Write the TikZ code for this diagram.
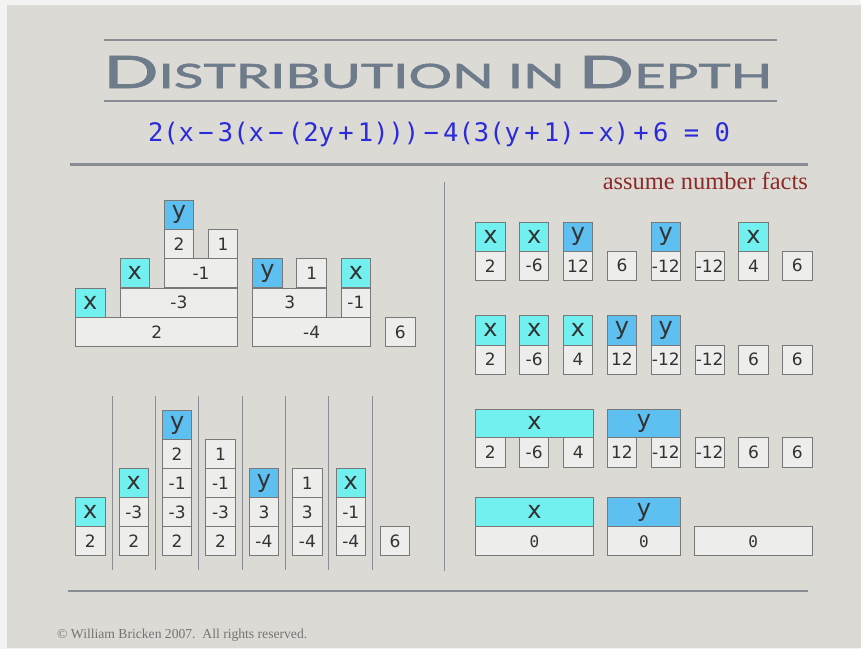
\documentclass[tikz,border=0pt]{standalone}
\usepackage{fontspec}
\usepackage{graphicx}
\setmainfont{Liberation Serif}
\newfontfamily\boxfont{DejaVu Sans}
\newfontfamily\eqfont{DejaVu Sans Mono}
\newfontfamily\titlefont[FakeBold=1.6]{Lato}
\definecolor{bg}{HTML}{DCDAD5}
\definecolor{rim}{HTML}{F3F3F2}
\definecolor{rule}{HTML}{8A8D93}
\definecolor{titlec}{HTML}{6E7B8B}
\definecolor{eqc}{HTML}{2B2BDB}
\definecolor{factc}{HTML}{8C2A2A}
\definecolor{boxline}{HTML}{787878}
\definecolor{numfill}{HTML}{EDEDEC}
\definecolor{xfill}{HTML}{72F0F0}
\definecolor{yfill}{HTML}{5EC0F0}
\definecolor{txt}{HTML}{333333}
\newcommand\bx[6]{\node[#1,anchor=north west,minimum width=#4pt,minimum height=#5pt] (#2) at (#3) {#6};}
\begin{document}
\begin{tikzpicture}[x=1pt,y=-1pt,
  cellbase/.style={draw=boxline,line width=1pt,inner sep=0pt,outer sep=0pt,text=txt},
  num/.style={cellbase,fill=numfill,font=\boxfont\fontsize{17}{17}\selectfont},
  zero/.style={cellbase,fill=numfill,font=\eqfont\fontsize{16}{16}\selectfont},
  cx/.style={cellbase,fill=xfill,font=\boxfont\fontsize{24}{24}\selectfont},
  cy/.style={cellbase,fill=yfill,font=\boxfont\fontsize{24}{24}\selectfont},
  rulel/.style={draw=rule,line width=1.5pt},
  sepl/.style={draw=rule,line width=1pt}]
% background
\fill[rim] (0,0) rectangle (861,649);
\fill[bg] (7,5) rectangle (861,648);
\useasboundingbox (0,0) rectangle (861,649);
% title
\draw[rulel] (104,40) -- (777,40);
\draw[rulel] (104,101) -- (777,101);
\node[anchor=base west,inner sep=0pt,text=titlec] (title) at (103,88)
  {\resizebox{669pt}{32pt}{\titlefont\fontsize{40}{40}\selectfont D{\fontsize{30}{30}\selectfont ISTRIBUTION IN }D{\fontsize{30}{30}\selectfont EPTH}}};
\node[anchor=base,inner sep=0pt,text=eqc] (eq) at (439,141)
  {\resizebox{582pt}{!}{\eqfont\fontsize{20}{20}\selectfont 2(x\,−\,3(x\,−\,(2y\,+\,1)))\,−\,4(3(y\,+\,1)\,−\,x)\,+\,6 = 0}};
\draw[draw=rule,line width=2.6pt] (70,164.5) -- (808,164.5);
\node[anchor=base east,inner sep=0pt,text=factc] (facts) at (808,189)
  {\resizebox{205pt}{!}{\fontsize{22}{22}\selectfont assume number facts}};
% divider and bottom rule
\draw[rulel] (444.3,182) -- (444.3,571);
\draw[draw=rule,line width=2pt] (68,591) -- (808,591);
\node[anchor=base west,inner sep=0pt,text=black!55] (copy) at (57,638)
  {\resizebox{250pt}{!}{\fontsize{11}{11}\selectfont © William Bricken 2007.\ \ All rights reserved.}};
% ---------- top-left nested boxes ----------
\bx{cy}{ty}{164.3,200}{29.3}{29.3}{y}
\bx{num}{t2}{164.3,229.3}{29.3}{29.3}{2}
\bx{num}{t1}{208.3,229.3}{29.3}{29.3}{1}
\bx{num}{tm1}{164.3,258.5}{73.4}{29.3}{-1}
\bx{cx}{tx2}{120,258.5}{29.3}{29.3}{x}
\bx{num}{tm3}{120,288}{117.7}{29.5}{-3}
\bx{cx}{tx1}{75.7,288}{29.3}{29.5}{x}
\bx{num}{tb2}{75.7,317.5}{162}{29.3}{2}
\bx{cy}{ry}{252.7,258.5}{29.6}{29.3}{y}
\bx{num}{r1}{296.7,258.5}{30}{29.3}{1}
\bx{cx}{rx}{341,258.5}{29.7}{29.3}{x}
\bx{num}{r3}{252.7,288}{74}{29.5}{3}
\bx{num}{rm1}{341,288}{29.7}{29.5}{-1}
\bx{num}{rm4}{252.7,317.5}{118}{29.3}{-4}
\bx{num}{r6}{385.7,317.5}{29.3}{29.3}{6}
% ---------- bottom-left columns ----------
\foreach \i in {0,...,6}{
  \coordinate (st\i) at ({112.3+43.33*\i},396);
  \coordinate (sb\i) at ({112.3+43.33*\i},570);
  \draw[sepl] (st\i) -- (sb\i);
}
% column 1
\bx{num}{a1}{75.7,526.7}{29.3}{29}{2}
\bx{cx}{a2}{75.7,497.6}{29.3}{29.1}{x}
% column 2
\bx{num}{b1}{119.1,526.7}{29.3}{29}{2}
\bx{num}{b2}{119.1,497.6}{29.3}{29.1}{-3}
\bx{cx}{b3}{119.1,468.5}{29.3}{29.1}{x}
% column 3
\bx{num}{c1}{162.5,526.7}{29.3}{29}{2}
\bx{num}{c2}{162.5,497.6}{29.3}{29.1}{-3}
\bx{num}{c3}{162.5,468.5}{29.3}{29.1}{-1}
\bx{num}{c4}{162.5,439.5}{29.3}{29}{2}
\bx{cy}{c5}{162.5,410.7}{29.3}{28.8}{y}
% column 4
\bx{num}{d1}{205.9,526.7}{29.3}{29}{2}
\bx{num}{d2}{205.9,497.6}{29.3}{29.1}{-3}
\bx{num}{d3}{205.9,468.5}{29.3}{29.1}{-1}
\bx{num}{d4}{205.9,439.5}{29.3}{29}{1}
% column 5
\bx{num}{e1}{249.3,526.7}{29.3}{29}{-4}
\bx{num}{e2}{249.3,497.6}{29.3}{29.1}{3}
\bx{cy}{e3}{249.3,468.5}{29.3}{29.1}{y}
% column 6
\bx{num}{f1}{292.7,526.7}{29.3}{29}{-4}
\bx{num}{f2}{292.7,497.6}{29.3}{29.1}{3}
\bx{num}{f3}{292.7,468.5}{29.3}{29.1}{1}
% column 7
\bx{num}{g1}{336.1,526.7}{29.3}{29}{-4}
\bx{num}{g2}{336.1,497.6}{29.3}{29.1}{-1}
\bx{cx}{g3}{336.1,468.5}{29.3}{29.1}{x}
% column 8
\bx{num}{h1}{380.7,526.7}{28.7}{29}{6}
% ---------- right side ----------
% row 1
\bx{cx}{p1a}{475.7,222.3}{29.3}{29}{x}
\bx{num}{p1b}{475.7,251.3}{29.3}{29}{2}
\bx{cx}{p2a}{519.5,222.3}{29.3}{29}{x}
\bx{num}{p2b}{519.5,251.3}{29.3}{29}{-6}
\bx{cy}{p3a}{563.4,222.3}{29.3}{29}{y}
\bx{num}{p3b}{563.4,251.3}{29.3}{29}{12}
\bx{num}{p4b}{607.3,251.3}{29.3}{29}{6}
\bx{cy}{p5a}{651.1,222.3}{29.3}{29}{y}
\bx{num}{p5b}{651.1,251.3}{29.3}{29}{-12}
\bx{num}{p6b}{695,251.3}{29.3}{29}{-12}
\bx{cx}{p7a}{738.9,222.3}{29.3}{29}{x}
\bx{num}{p7b}{738.9,251.3}{29.3}{29}{4}
\bx{num}{p8b}{782.7,251.3}{29.3}{29}{6}
% row 2
\bx{cx}{q1a}{475.7,315.7}{29.3}{29.3}{x}
\bx{num}{q1b}{475.7,345}{29.3}{29}{2}
\bx{cx}{q2a}{519.5,315.7}{29.3}{29.3}{x}
\bx{num}{q2b}{519.5,345}{29.3}{29}{-6}
\bx{cx}{q3a}{563.4,315.7}{29.3}{29.3}{x}
\bx{num}{q3b}{563.4,345}{29.3}{29}{4}
\bx{cy}{q4a}{607.3,315.7}{29.3}{29.3}{y}
\bx{num}{q4b}{607.3,345}{29.3}{29}{12}
\bx{cy}{q5a}{651.1,315.7}{29.3}{29.3}{y}
\bx{num}{q5b}{651.1,345}{29.3}{29}{-12}
\bx{num}{q6b}{695,345}{29.3}{29}{-12}
\bx{num}{q7b}{738.9,345}{29.3}{29}{6}
\bx{num}{q8b}{782.7,345}{29.3}{29}{6}
% row 3
\bx{cx}{s1}{475.7,409}{117.6}{28.7}{x}
\bx{cy}{s2}{607.3,409}{73.4}{28.7}{y}
\bx{num}{s3}{475.7,437.7}{29.3}{29.6}{2}
\bx{num}{s4}{519.5,437.7}{29.3}{29.6}{-6}
\bx{num}{s5}{563.4,437.7}{29.9}{29.6}{4}
\bx{num}{s6}{607.3,437.7}{29.3}{29.6}{12}
\bx{num}{s7}{651.1,437.7}{29.6}{29.6}{-12}
\bx{num}{s8}{695,437.7}{29.3}{29.6}{-12}
\bx{num}{s9}{738.9,437.7}{29.3}{29.6}{6}
\bx{num}{s10}{782.7,437.7}{29.3}{29.6}{6}
% row 4
\bx{cx}{u1}{475.7,497.3}{117.6}{29.4}{x}
\bx{zero}{u2}{475.7,526.7}{117.6}{29}{0}
\bx{cy}{u3}{607.3,497.3}{73.4}{29.4}{y}
\bx{zero}{u4}{607.3,526.7}{73.4}{29}{0}
\bx{zero}{u5}{694.3,526.7}{118}{29}{0}
\end{tikzpicture}
\end{document}
